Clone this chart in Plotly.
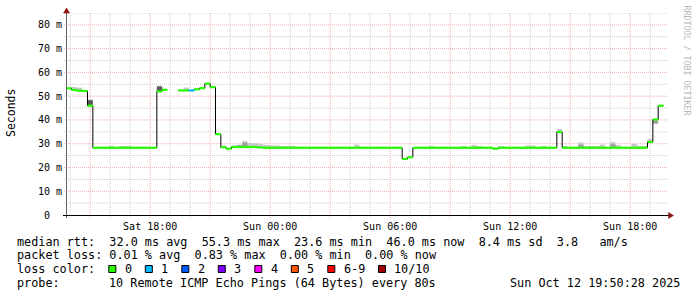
import plotly.graph_objects as go
import pandas as pd

# ---------------- data ----------------
bin_start = "2025-10-11 13:48:00"      # start of first 16-minute consolidation bin
bin_minutes = 16
view_start = "2025-10-11 13:50:28"
view_end = "2025-10-12 19:50:28"

# median rtt per bin, milliseconds (None = no data)
median_ms = [
    53.3, 52.6, 52.3, 52.2, 46.0,
    28.3, 28.3, 28.3, 28.3, 28.3, 28.3, 28.3, 28.3, 28.3, 28.3, 28.3, 28.3,
    52.0, 52.7, None, None,
    52.4, 52.4, 52.4, 52.9, 53.4, 55.3, 53.8, 34.0, 28.5, 27.9,
    28.6, 28.6, 28.6, 28.6, 28.6, 28.4,
    28.3, 28.3, 28.3, 28.3, 28.3, 28.3, 28.3, 28.3, 28.3, 28.3, 28.3, 28.3, 28.3,
    28.3, 28.3, 28.3, 28.3, 28.3, 28.3, 28.3, 28.3, 28.3, 28.3, 28.3, 28.3, 28.3,
    23.6, 24.3,
    28.3, 28.3, 28.3, 28.3, 28.3, 28.3, 28.3, 28.3, 28.3, 28.3, 28.3, 28.3, 28.3,
    28.3, 28.3,
    27.9,
    28.3, 28.3, 28.3, 28.3, 28.3, 28.3, 28.3, 28.3, 28.3, 28.3, 28.3,
    34.9,
    28.3, 28.3, 28.3, 28.3, 28.3, 28.3, 28.3, 28.3, 28.3, 28.3, 28.3, 28.3, 28.3,
    28.3, 28.3, 28.3,
    30.7, 40.2, 46.0,
]

# lost pings per bin (bin index -> count), others 0
lost_pings = {23: 1}

# smoke (ping spread) per bin: bin index -> (low ms, high ms)
smoke_light = {
    1: (52.6, 53.9), 2: (52.3, 53.6), 4: (46.0, 48.6), 8: (28.3, 28.9),
    10: (28.3, 28.9), 11: (28.3, 28.9), 17: (52.0, 54.4), 22: (52.4, 53.6),
    29: (28.5, 29.1), 31: (28.6, 29.3), 32: (28.6, 29.6), 33: (28.6, 31.1),
    34: (28.6, 30.3), 35: (28.6, 30.2), 36: (28.4, 29.8), 37: (28.3, 29.5),
    38: (28.3, 29.3), 39: (28.3, 29.3), 40: (28.3, 29.1), 41: (28.3, 29.1),
    42: (28.3, 29.1), 54: (28.3, 29.6), 68: (28.3, 29.0), 74: (28.3, 29.0),
    76: (28.3, 29.4), 77: (28.3, 29.0), 81: (28.3, 29.0), 86: (28.3, 29.2),
    87: (28.3, 29.2), 89: (28.3, 29.0), 92: (34.9, 36.2), 93: (28.3, 28.9),
    96: (28.3, 30.5), 97: (28.3, 28.9), 98: (28.3, 28.9), 99: (28.3, 28.9),
    100: (28.3, 29.6), 102: (28.3, 30.7), 103: (28.3, 29.4), 106: (28.3, 29.9),
    107: (28.3, 29.1), 108: (28.3, 29.0), 109: (30.7, 32.0),
}
smoke_mid = {
    32: (28.6, 29.4), 33: (28.6, 30.4), 96: (28.3, 29.6), 102: (28.3, 29.8),
    110: (38.4, 39.9),
}
smoke_dark = {4: (46.3, 48.3), 17: (52.2, 54.1)}

loss_labels = ["0", "1", "2", "3", "4", "5", "6-9", "10/10"]
loss_colors = ["#26ff00", "#00b8ff", "#0059ff", "#7e00ff", "#ff00ff",
               "#ff5500", "#ff0000", "#a10000"]

stats_line1 = "median rtt:  32.0 ms avg  55.3 ms max  23.6 ms min  46.0 ms now  8.4 ms sd  3.8   am/s"
stats_line2 = "packet loss: 0.01 % avg  0.83 % max  0.00 % min  0.00 % now"
probe_label = "probe:"
probe_text = "10 Remote ICMP Echo Pings (64 Bytes) every 80s"
stamp_text = "Sun Oct 12 19:50:28 2025"
y_title = "Seconds"
side_text = "RRDTOOL / TOBI OETIKER"

# ---------------- figure ----------------
starts = pd.date_range(bin_start, periods=len(median_ms), freq=f"{bin_minutes}min")
ends = starts + pd.Timedelta(minutes=bin_minutes)
centers = starts + pd.Timedelta(minutes=bin_minutes / 2)
bin_w_ms = bin_minutes * 60 * 1000

fig = go.Figure()

def smoke_trace(d, color):
    keys = sorted(d)
    return go.Bar(x=[centers[k] for k in keys], base=[d[k][0] for k in keys],
                  y=[d[k][1] - d[k][0] for k in keys], width=bin_w_ms,
                  marker=dict(color=color, line=dict(width=0)),
                  hoverinfo="skip")

fig.add_trace(smoke_trace(smoke_light, "#c8c8c8"))
fig.add_trace(smoke_trace(smoke_mid, "#a0a0a0"))
fig.add_trace(smoke_trace(smoke_dark, "#5a5a5a"))

# thin black step line through medians
xs = list(starts) + [ends[-1]]
ys = list(median_ms) + [median_ms[-1]]
fig.add_trace(go.Scatter(x=xs, y=ys, mode="lines", line=dict(color="#000", width=1, shape="hv"),
                         connectgaps=False, hoverinfo="skip"))

# coloured median segments by loss
def loss_index(n):
    if n <= 5:
        return n
    if n < 10:
        return 6
    return 7

segs = {}
for k, m in enumerate(median_ms):
    if m is None:
        continue
    ci = loss_index(lost_pings.get(k, 0))
    sx, sy = segs.setdefault(ci, ([], []))
    sx += [starts[k], ends[k], None]
    sy += [m, m, None]
for ci, (sx, sy) in segs.items():
    fig.add_trace(go.Scatter(x=sx, y=sy, mode="lines",
                             line=dict(color=loss_colors[ci], width=2.2),
                             hoverinfo="skip"))

# ---------------- axes ----------------
L, R, T, B = 67, 30, 13, 82
W, H = 697, 297
PW, PH = W - L - R, H - T - B

def px(x):
    return (x - L) / PW

def py(y):
    return (H - B - y) / PH

mono = "DejaVu Sans Mono"
major_c = "#f3acac"
minor_c = "#cccccc"
dots = "1px,1px"

tick_times = pd.date_range("2025-10-11 15:00", "2025-10-12 18:00", freq="3h")
tick_text = [t.strftime("%a %H:%M") if t.hour % 6 == 0 else "" for t in tick_times]
hour_times = pd.date_range("2025-10-11 14:00", "2025-10-12 19:00", freq="1h")

fig.update_xaxes(
    range=[view_start, view_end], type="date",
    tickvals=list(tick_times), ticktext=tick_text,
    showgrid=False, ticks="", ticklabelstandoff=4,
    tickfont=dict(family=mono, size=10, color="#000"),
    showline=False, zeroline=False,
)
yvals = list(range(0, 81, 10))
ytext = [("%d m" % v) if v else "0\u00a0\u00a0" for v in yvals]
fig.update_yaxes(
    range=[0, 85], tickvals=yvals, ticktext=ytext,
    showgrid=False, ticks="", ticklabelstandoff=4,
    tickfont=dict(family=mono, size=10, color="#000"),
    showline=False, zeroline=False,
)

shapes = []
# grid lines (minor first, then major), extending a little outside the axes as ticks
grid_minor, grid_major = [], []
for t in hour_times:
    g = dict(type="line", xref="x", yref="paper", x0=t, x1=t, y0=py(218), y1=1,
             layer="below", line=dict(width=1, dash=dots,
                                      color=major_c if t.hour % 3 == 0 else minor_c))
    (grid_major if t.hour % 3 == 0 else grid_minor).append(g)
for v in range(5, 86, 5):
    g = dict(type="line", xref="paper", yref="y", x0=px(64), x1=1, y0=v, y1=v,
             layer="below", line=dict(width=1, dash=dots,
                                      color=major_c if v % 10 == 0 else minor_c))
    (grid_major if v % 10 == 0 else grid_minor).append(g)
shapes += grid_minor + grid_major

# axis lines
shapes.append(dict(type="line", xref="paper", yref="paper",
                   x0=px(66.5), x1=px(66.5), y0=py(218), y1=py(11),
                   line=dict(color="#606060", width=1)))
shapes.append(dict(type="line", xref="paper", yref="paper",
                   x0=px(63), x1=px(669), y0=py(215.5), y1=py(215.5),
                   line=dict(color="#000", width=1)))
arrow_c = "#8c1111"
shapes.append(dict(type="path", xref="paper", yref="paper",
                   path=f"M {px(66.5)},{py(8)} L {px(63.5)},{py(13)} L {px(69.5)},{py(13)} Z",
                   fillcolor=arrow_c, line=dict(color=arrow_c, width=0.5)))
shapes.append(dict(type="path", xref="paper", yref="paper",
                   path=f"M {px(673.5)},{py(215.5)} L {px(668.5)},{py(212.5)} L {px(668.5)},{py(218.5)} Z",
                   fillcolor=arrow_c, line=dict(color=arrow_c, width=0.5)))

annotations = []

def text_at(x, y, s, size=11.8, color="#000", xanchor="left", angle=0, family=mono):
    annotations.append(dict(x=px(x), y=py(y), xref="paper", yref="paper", text=s.replace(" ", "\u00a0"),
                            showarrow=False, xanchor=xanchor, yanchor="middle",
                            textangle=angle, borderpad=0,
                            font=dict(family=family, size=size, color=color)))

adv = 7.1
left = 16
text_at(left, 241.7, stats_line1)
text_at(left, 255.3, stats_line2)
text_at(left, 269.0, "loss color:")
bx = left + 13 * adv
for lab, col in zip(loss_labels, loss_colors):
    shapes.append(dict(type="rect", xref="paper", yref="paper",
                       x0=px(bx + 0.5), x1=px(bx + 7.5), y0=py(265.5), y1=py(272.5),
                       fillcolor=col, line=dict(color="#000", width=1)))
    lx = bx + 15.2
    text_at(lx, 269.0, lab)
    bx = lx + (len(lab) + 2) * adv
text_at(left, 282.7, probe_label)
text_at(left + 13 * adv, 282.7, probe_text)
text_at(680.5, 282.7, stamp_text, xanchor="right")

text_at(10.5, 113.5, y_title, size=11.5, xanchor="center", angle=-90)
text_at(686.5, 60, side_text, size=8.3, color="#b8b8b8", xanchor="center", angle=90)

fig.update_layout(
    width=W, height=H, margin=dict(l=L, r=R, t=T, b=B, pad=0),
    paper_bgcolor="white", plot_bgcolor="white",
    showlegend=False, barmode="overlay",
    shapes=shapes, annotations=annotations,
)

fig.write_html("out.html")
